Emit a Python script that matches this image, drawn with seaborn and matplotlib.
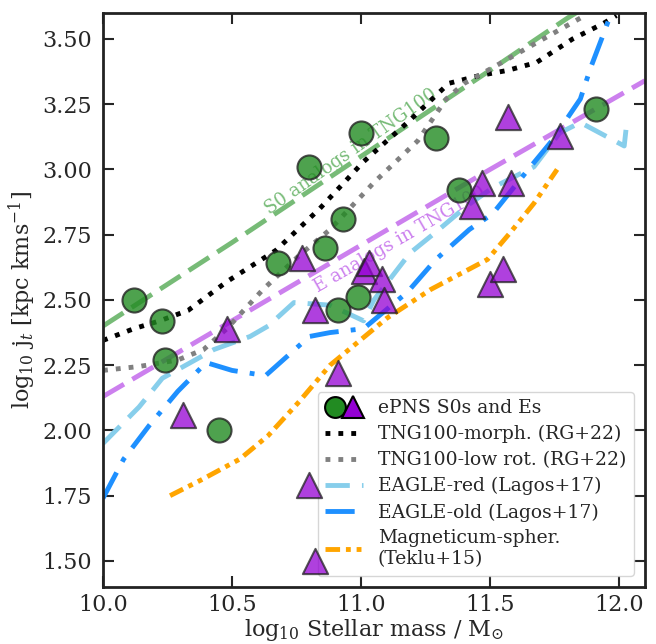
import numpy as np
import pandas as pd
import seaborn as sns
import matplotlib.pyplot as plt
from matplotlib.lines import Line2D
from matplotlib.legend_handler import HandlerTuple

sns.set_style("ticks")
plt.rcParams["font.family"] = ["DejaVu Serif"]
plt.rcParams["mathtext.fontset"] = "dejavuserif"

# ePNS galaxies
s0_mass = [10.12, 10.23, 10.24, 10.45, 10.68, 10.80, 10.86, 10.93, 10.91, 10.99, 11.00, 11.29, 11.38, 11.91]
s0_j = [2.50, 2.42, 2.27, 2.00, 2.64, 3.01, 2.70, 2.81, 2.46, 2.51, 3.14, 3.12, 2.92, 3.23]

es_mass = [10.31, 10.48, 10.77, 10.80, 10.82, 10.82, 10.91, 11.01, 11.03, 11.08, 11.09,
           11.43, 11.47, 11.50, 11.55, 11.58, 11.57, 11.77]
es_j = [2.06, 2.39, 2.66, 1.79, 2.46, 1.50, 2.22, 2.61, 2.64, 2.58, 2.50,
        2.86, 2.95, 2.56, 2.62, 2.95, 3.20, 3.13]

# simulation relations
s0_tng_mass = [10.0, 10.5, 11.0, 11.5, 11.8, 11.9]
s0_tng_j = [2.40, 2.72, 3.05, 3.38, 3.58, 3.64]

e_tng_mass = [10.0, 10.5, 11.0, 11.5, 12.1]
e_tng_j = [2.13, 2.42, 2.71, 3.00, 3.34]

morph_mass = [10.0, 10.12, 10.22, 10.33, 10.48, 10.67, 10.84, 11.01, 11.18, 11.34, 11.46, 11.57, 11.68, 11.82, 11.94, 11.99]
morph_j = [2.345, 2.39, 2.42, 2.46, 2.57, 2.69, 2.85, 3.03, 3.18, 3.33, 3.36, 3.38, 3.41, 3.50, 3.56, 3.59]

lowrot_mass = [10.0, 10.14, 10.29, 10.39, 10.48, 10.62, 10.76, 10.88, 11.05, 11.22, 11.33, 11.40, 11.51, 11.67, 11.85]
lowrot_j = [2.23, 2.245, 2.27, 2.31, 2.39, 2.54, 2.67, 2.77, 2.95, 3.11, 3.27, 3.33, 3.39, 3.48, 3.58]

red_mass = [10.0, 10.14, 10.23, 10.43, 10.57, 10.64, 10.74, 10.88, 11.01, 11.05, 11.19, 11.29, 11.41, 11.51, 11.67, 11.77, 11.85, 12.02, 12.03]
red_j = [1.95, 2.09, 2.20, 2.31, 2.36, 2.40, 2.49, 2.48, 2.42, 2.50, 2.68, 2.76, 2.86, 2.93, 3.01, 3.14, 3.18, 3.09, 3.18]

old_mass = [10.0, 10.08, 10.18, 10.29, 10.40, 10.50, 10.63, 10.80, 10.88, 11.01, 11.18, 11.29, 11.42, 11.51, 11.64, 11.74, 11.85, 11.89, 11.94, 11.97]
old_j = [1.74, 1.89, 2.02, 2.15, 2.26, 2.23, 2.21, 2.36, 2.375, 2.39, 2.53, 2.655, 2.77, 2.83, 2.99, 3.11, 3.27, 3.39, 3.52, 3.60]

mag_mass = [10.26, 10.38, 10.53, 10.64, 10.76, 10.88, 11.10, 11.27, 11.49, 11.58, 11.67, 11.76]
mag_j = [1.75, 1.81, 1.89, 1.98, 2.11, 2.25, 2.43, 2.54, 2.655, 2.76, 2.87, 3.00]

fig, ax = plt.subplots(figsize=(6.56, 6.44), dpi=100)
fig.subplots_adjust(left=0.157, right=0.983, top=0.980, bottom=0.0885)

lw = 3.5
dotted = (0, (1, 1.65))
sns.lineplot(x=s0_tng_mass, y=s0_tng_j, ax=ax, color="#77bb77", lw=lw, linestyle=(0, (5, 2)), sort=False)
sns.lineplot(x=e_tng_mass, y=e_tng_j, ax=ax, color="#cc80ee", lw=lw, linestyle=(0, (5, 2)), sort=False)
sns.lineplot(x=morph_mass, y=morph_j, ax=ax, color="black", lw=lw, linestyle=dotted, sort=False)
sns.lineplot(x=lowrot_mass, y=lowrot_j, ax=ax, color="grey", lw=lw, linestyle=dotted, sort=False)
sns.lineplot(x=red_mass, y=red_j, ax=ax, color="skyblue", lw=lw, linestyle=(0, (5, 2.5)), sort=False)
sns.lineplot(x=old_mass, y=old_j, ax=ax, color="dodgerblue", lw=lw, linestyle=(0, (6, 2.5, 1, 2.5)), sort=False)
sns.lineplot(x=mag_mass, y=mag_j, ax=ax, color="orange", lw=lw, linestyle=(0, (3, 1.2, 1, 1.2, 1, 1.2)), sort=False)

ax.text(10.96, 3.07, "S0 analogs in TNG100", color="#77bb77", fontsize=13,
        rotation=35, ha="center", va="center", rotation_mode="anchor", zorder=1)
ax.text(11.15, 2.73, "E analogs in TNG100", color="#cc80ee", fontsize=13,
        rotation=30, ha="center", va="center", rotation_mode="anchor", zorder=1)

sns.scatterplot(x=s0_mass, y=s0_j, ax=ax, marker="o", s=300, color="forestgreen",
                edgecolor="#222222", linewidth=1.5, alpha=0.8, zorder=5)
sns.scatterplot(x=es_mass, y=es_j, ax=ax, marker="^", s=330, color="darkviolet",
                edgecolor="#222222", linewidth=1.5, alpha=0.75, zorder=5)

ax.set_xlim(10.0, 12.1)
ax.set_ylim(1.40, 3.60)
ax.set_xticks([10.0, 10.5, 11.0, 11.5, 12.0])
ax.set_yticks([1.50, 1.75, 2.00, 2.25, 2.50, 2.75, 3.00, 3.25, 3.50])
ax.set_yticklabels([f"{v:.2f}" for v in ax.get_yticks()])
ax.tick_params(direction="in", top=True, right=True, length=8, width=1.5, labelsize=16, pad=8)
ax.tick_params(axis="x", pad=5)
for sp in ax.spines.values():
    sp.set_linewidth(2)
    sp.set_color("#222222")

ax.set_xlabel(r"log$_{10}$ Stellar mass / M$_{\odot}$", fontsize=16, labelpad=1)
ax.set_ylabel(r"log$_{10}$ j$_t$ [kpc kms$^{-1}$]", fontsize=16, labelpad=3)

circ = Line2D([], [], marker="o", ls="none", ms=15, mfc="forestgreen", mec="black", mew=1.5)
tri = Line2D([], [], marker="^", ms=16, ls="none", mfc="darkviolet", mec="black", mew=1.5)
handles = [
    (circ, tri),
    Line2D([], [], color="black", lw=lw, linestyle=dotted),
    Line2D([], [], color="grey", lw=lw, linestyle=dotted),
    Line2D([], [], color="skyblue", lw=lw, linestyle=(0, (5, 2.5))),
    Line2D([], [], color="dodgerblue", lw=lw, linestyle=(0, (6, 2.5, 1, 2.5))),
    Line2D([], [], color="orange", lw=lw, linestyle=(0, (3, 1.2, 1, 1.2, 1, 1.2))),
]
labels = ["ePNS S0s and Es", "TNG100-morph. (RG+22)", "TNG100-low rot. (RG+22)",
          "EAGLE-red (Lagos+17)", "EAGLE-old (Lagos+17)", "Magneticum-spher.\n(Teklu+15)"]
leg = ax.legend(handles, labels, loc="lower right", fontsize=13.5,
                handler_map={tuple: HandlerTuple(ndivide=None, pad=0)},
                handlelength=2.0, labelspacing=0.42, borderaxespad=0.6,
                borderpad=0.4, framealpha=0.8)
# markers sit on top of the legend frame, as in the original
leg.set_zorder(4)

fig.savefig("out.png", dpi=100)
